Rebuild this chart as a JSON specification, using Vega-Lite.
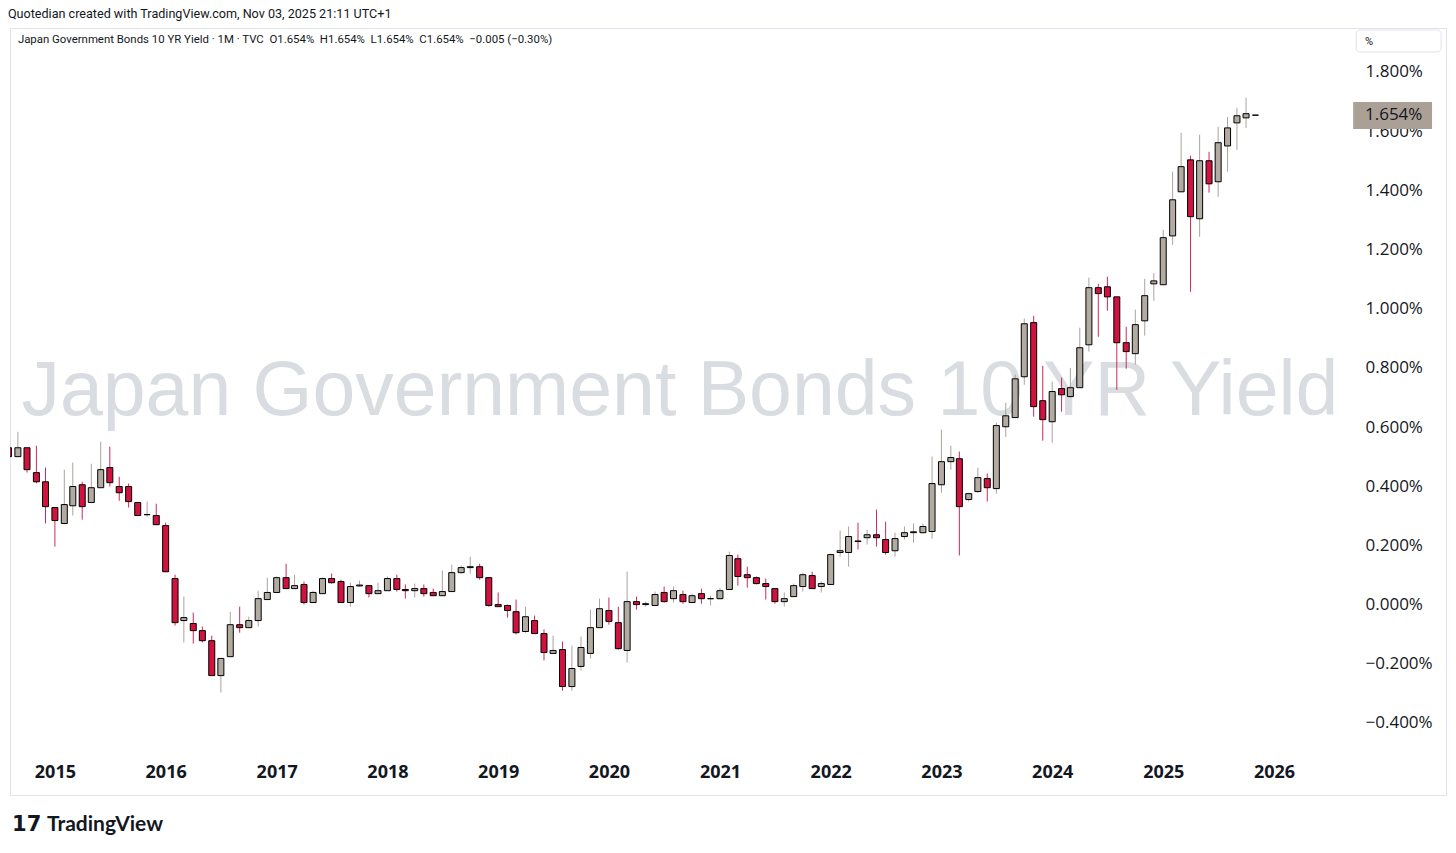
{
  "$schema": "https://vega.github.io/schema/vega-lite/v6.json",
  "width": 1436,
  "height": 767,
  "autosize": "none",
  "padding": {"left": 10, "top": 28, "right": 10, "bottom": 58},
  "background": "white",
  "config": {"view": {"stroke": "#e0e3eb", "strokeWidth": 1}},
  "data": {"values": [
    {"d":"2014-08-01","o":0.53,"h":0.54,"l":0.49,"c":0.50},
    {"d":"2014-09-01","o":0.50,"h":0.584,"l":0.50,"c":0.53},
    {"d":"2014-10-01","o":0.53,"h":0.53,"l":0.446,"c":0.456},
    {"d":"2014-11-01","o":0.446,"h":0.537,"l":0.41,"c":0.415},
    {"d":"2014-12-01","o":0.415,"h":0.463,"l":0.274,"c":0.331},
    {"d":"2015-01-01","o":0.328,"h":0.328,"l":0.196,"c":0.284},
    {"d":"2015-02-01","o":0.274,"h":0.456,"l":0.274,"c":0.338},
    {"d":"2015-03-01","o":0.334,"h":0.48,"l":0.301,"c":0.399},
    {"d":"2015-04-01","o":0.405,"h":0.415,"l":0.287,"c":0.331},
    {"d":"2015-05-01","o":0.345,"h":0.476,"l":0.345,"c":0.395},
    {"d":"2015-06-01","o":0.395,"h":0.551,"l":0.395,"c":0.456},
    {"d":"2015-07-01","o":0.463,"h":0.534,"l":0.399,"c":0.412},
    {"d":"2015-08-01","o":0.399,"h":0.432,"l":0.351,"c":0.378},
    {"d":"2015-09-01","o":0.399,"h":0.409,"l":0.328,"c":0.348},
    {"d":"2015-10-01","o":0.345,"h":0.345,"l":0.301,"c":0.301},
    {"d":"2015-11-01","o":0.304,"h":0.348,"l":0.297,"c":0.304},
    {"d":"2015-12-01","o":0.301,"h":0.341,"l":0.27,"c":0.27},
    {"d":"2016-01-01","o":0.267,"h":0.277,"l":0.111,"c":0.111},
    {"d":"2016-02-01","o":0.088,"h":0.101,"l":-0.071,"c":-0.061},
    {"d":"2016-03-01","o":-0.054,"h":0.027,"l":-0.128,"c":-0.044},
    {"d":"2016-04-01","o":-0.064,"h":-0.027,"l":-0.132,"c":-0.088},
    {"d":"2016-05-01","o":-0.088,"h":-0.074,"l":-0.128,"c":-0.122},
    {"d":"2016-06-01","o":-0.122,"h":-0.105,"l":-0.24,"c":-0.24},
    {"d":"2016-07-01","o":-0.24,"h":-0.182,"l":-0.297,"c":-0.182},
    {"d":"2016-08-01","o":-0.176,"h":-0.024,"l":-0.176,"c":-0.068},
    {"d":"2016-09-01","o":-0.068,"h":-0.007,"l":-0.095,"c":-0.078},
    {"d":"2016-10-01","o":-0.078,"h":-0.041,"l":-0.078,"c":-0.054},
    {"d":"2016-11-01","o":-0.054,"h":0.047,"l":-0.074,"c":0.02},
    {"d":"2016-12-01","o":0.017,"h":0.091,"l":0.017,"c":0.041},
    {"d":"2017-01-01","o":0.041,"h":0.095,"l":0.041,"c":0.091},
    {"d":"2017-02-01","o":0.091,"h":0.138,"l":0.054,"c":0.054},
    {"d":"2017-03-01","o":0.054,"h":0.101,"l":0.054,"c":0.064},
    {"d":"2017-04-01","o":0.068,"h":0.078,"l":0.0,"c":0.007},
    {"d":"2017-05-01","o":0.007,"h":0.047,"l":0.007,"c":0.041},
    {"d":"2017-06-01","o":0.037,"h":0.091,"l":0.037,"c":0.088},
    {"d":"2017-07-01","o":0.088,"h":0.105,"l":0.071,"c":0.074},
    {"d":"2017-08-01","o":0.078,"h":0.084,"l":0.007,"c":0.007},
    {"d":"2017-09-01","o":0.007,"h":0.074,"l":-0.007,"c":0.061},
    {"d":"2017-10-01","o":0.063,"h":0.081,"l":0.061,"c":0.066},
    {"d":"2017-11-01","o":0.064,"h":0.064,"l":0.024,"c":0.037},
    {"d":"2017-12-01","o":0.037,"h":0.074,"l":0.037,"c":0.047},
    {"d":"2018-01-01","o":0.047,"h":0.095,"l":0.047,"c":0.088},
    {"d":"2018-02-01","o":0.088,"h":0.101,"l":0.044,"c":0.051},
    {"d":"2018-03-01","o":0.051,"h":0.068,"l":0.02,"c":0.047},
    {"d":"2018-04-01","o":0.047,"h":0.071,"l":0.024,"c":0.054},
    {"d":"2018-05-01","o":0.054,"h":0.068,"l":0.027,"c":0.037},
    {"d":"2018-06-01","o":0.041,"h":0.054,"l":0.03,"c":0.03},
    {"d":"2018-07-01","o":0.03,"h":0.115,"l":0.03,"c":0.044},
    {"d":"2018-08-01","o":0.044,"h":0.135,"l":0.044,"c":0.108},
    {"d":"2018-09-01","o":0.108,"h":0.132,"l":0.105,"c":0.125},
    {"d":"2018-10-01","o":0.125,"h":0.162,"l":0.105,"c":0.128},
    {"d":"2018-11-01","o":0.128,"h":0.138,"l":0.084,"c":0.091},
    {"d":"2018-12-01","o":0.091,"h":0.091,"l":-0.007,"c":-0.003},
    {"d":"2019-01-01","o":0.0,"h":0.041,"l":-0.007,"c":-0.007},
    {"d":"2019-02-01","o":-0.003,"h":0.0,"l":-0.044,"c":-0.02},
    {"d":"2019-03-01","o":-0.024,"h":0.017,"l":-0.101,"c":-0.095},
    {"d":"2019-04-01","o":-0.091,"h":-0.007,"l":-0.095,"c":-0.041},
    {"d":"2019-05-01","o":-0.054,"h":-0.037,"l":-0.098,"c":-0.098},
    {"d":"2019-06-01","o":-0.098,"h":-0.084,"l":-0.189,"c":-0.162},
    {"d":"2019-07-01","o":-0.165,"h":-0.105,"l":-0.165,"c":-0.155},
    {"d":"2019-08-01","o":-0.152,"h":-0.125,"l":-0.291,"c":-0.277},
    {"d":"2019-09-01","o":-0.277,"h":-0.139,"l":-0.291,"c":-0.216},
    {"d":"2019-10-01","o":-0.209,"h":-0.108,"l":-0.223,"c":-0.145},
    {"d":"2019-11-01","o":-0.165,"h":-0.017,"l":-0.182,"c":-0.078},
    {"d":"2019-12-01","o":-0.078,"h":0.02,"l":-0.078,"c":-0.014},
    {"d":"2020-01-01","o":-0.02,"h":0.024,"l":-0.068,"c":-0.057},
    {"d":"2020-02-01","o":-0.061,"h":-0.007,"l":-0.152,"c":-0.149},
    {"d":"2020-03-01","o":-0.155,"h":0.111,"l":-0.196,"c":0.01},
    {"d":"2020-04-01","o":0.01,"h":0.027,"l":-0.017,"c":0.0},
    {"d":"2020-05-01","o":0.0,"h":0.01,"l":-0.007,"c":0.003},
    {"d":"2020-06-01","o":-0.003,"h":0.044,"l":-0.003,"c":0.034},
    {"d":"2020-07-01","o":0.041,"h":0.061,"l":0.007,"c":0.01},
    {"d":"2020-08-01","o":0.02,"h":0.061,"l":0.007,"c":0.047},
    {"d":"2020-09-01","o":0.034,"h":0.047,"l":0.003,"c":0.01},
    {"d":"2020-10-01","o":0.007,"h":0.037,"l":0.007,"c":0.03},
    {"d":"2020-11-01","o":0.037,"h":0.054,"l":0.003,"c":0.02},
    {"d":"2020-12-01","o":0.02,"h":0.03,"l":-0.003,"c":0.02},
    {"d":"2021-01-01","o":0.02,"h":0.057,"l":0.017,"c":0.047},
    {"d":"2021-02-01","o":0.051,"h":0.179,"l":0.051,"c":0.166},
    {"d":"2021-03-01","o":0.155,"h":0.169,"l":0.064,"c":0.095},
    {"d":"2021-04-01","o":0.101,"h":0.128,"l":0.057,"c":0.091},
    {"d":"2021-05-01","o":0.091,"h":0.095,"l":0.068,"c":0.071},
    {"d":"2021-06-01","o":0.071,"h":0.088,"l":0.017,"c":0.061},
    {"d":"2021-07-01","o":0.054,"h":0.054,"l":0.003,"c":0.01},
    {"d":"2021-08-01","o":0.01,"h":0.041,"l":-0.007,"c":0.02},
    {"d":"2021-09-01","o":0.027,"h":0.071,"l":0.027,"c":0.064},
    {"d":"2021-10-01","o":0.061,"h":0.108,"l":0.044,"c":0.101},
    {"d":"2021-11-01","o":0.098,"h":0.111,"l":0.054,"c":0.054},
    {"d":"2021-12-01","o":0.061,"h":0.078,"l":0.041,"c":0.071},
    {"d":"2022-01-01","o":0.068,"h":0.172,"l":0.068,"c":0.169},
    {"d":"2022-02-01","o":0.176,"h":0.25,"l":0.162,"c":0.182},
    {"d":"2022-03-01","o":0.176,"h":0.264,"l":0.128,"c":0.23},
    {"d":"2022-04-01","o":0.215,"h":0.277,"l":0.186,"c":0.213},
    {"d":"2022-05-01","o":0.226,"h":0.253,"l":0.203,"c":0.236},
    {"d":"2022-06-01","o":0.236,"h":0.321,"l":0.196,"c":0.226},
    {"d":"2022-07-01","o":0.22,"h":0.28,"l":0.169,"c":0.176},
    {"d":"2022-08-01","o":0.182,"h":0.243,"l":0.162,"c":0.223},
    {"d":"2022-09-01","o":0.23,"h":0.264,"l":0.22,"c":0.243},
    {"d":"2022-10-01","o":0.243,"h":0.274,"l":0.209,"c":0.246},
    {"d":"2022-11-01","o":0.243,"h":0.274,"l":0.24,"c":0.264},
    {"d":"2022-12-01","o":0.247,"h":0.5,"l":0.223,"c":0.409},
    {"d":"2023-01-01","o":0.405,"h":0.591,"l":0.378,"c":0.483},
    {"d":"2023-02-01","o":0.483,"h":0.537,"l":0.456,"c":0.497},
    {"d":"2023-03-01","o":0.493,"h":0.517,"l":0.166,"c":0.331},
    {"d":"2023-04-01","o":0.355,"h":0.378,"l":0.348,"c":0.375},
    {"d":"2023-05-01","o":0.382,"h":0.463,"l":0.378,"c":0.429},
    {"d":"2023-06-01","o":0.426,"h":0.443,"l":0.348,"c":0.395},
    {"d":"2023-07-01","o":0.392,"h":0.615,"l":0.375,"c":0.605},
    {"d":"2023-08-01","o":0.601,"h":0.682,"l":0.567,"c":0.638},
    {"d":"2023-09-01","o":0.632,"h":0.777,"l":0.632,"c":0.763},
    {"d":"2023-10-01","o":0.77,"h":0.966,"l":0.743,"c":0.949},
    {"d":"2023-11-01","o":0.953,"h":0.976,"l":0.635,"c":0.669},
    {"d":"2023-12-01","o":0.689,"h":0.807,"l":0.554,"c":0.625},
    {"d":"2024-01-01","o":0.618,"h":0.753,"l":0.547,"c":0.72},
    {"d":"2024-02-01","o":0.73,"h":0.767,"l":0.652,"c":0.709},
    {"d":"2024-03-01","o":0.703,"h":0.8,"l":0.7,"c":0.733},
    {"d":"2024-04-01","o":0.733,"h":0.936,"l":0.733,"c":0.868},
    {"d":"2024-05-01","o":0.878,"h":1.105,"l":0.855,"c":1.071},
    {"d":"2024-06-01","o":1.071,"h":1.084,"l":0.905,"c":1.051},
    {"d":"2024-07-01","o":1.074,"h":1.108,"l":0.993,"c":1.04},
    {"d":"2024-08-01","o":1.04,"h":1.04,"l":0.726,"c":0.885},
    {"d":"2024-09-01","o":0.885,"h":0.939,"l":0.797,"c":0.855},
    {"d":"2024-10-01","o":0.848,"h":0.997,"l":0.811,"c":0.946},
    {"d":"2024-11-01","o":0.959,"h":1.101,"l":0.909,"c":1.044},
    {"d":"2024-12-01","o":1.084,"h":1.121,"l":1.027,"c":1.094},
    {"d":"2025-01-01","o":1.081,"h":1.267,"l":1.081,"c":1.24},
    {"d":"2025-02-01","o":1.246,"h":1.463,"l":1.216,"c":1.368},
    {"d":"2025-03-01","o":1.395,"h":1.594,"l":1.395,"c":1.48},
    {"d":"2025-04-01","o":1.503,"h":1.517,"l":1.057,"c":1.311},
    {"d":"2025-05-01","o":1.304,"h":1.588,"l":1.243,"c":1.5},
    {"d":"2025-06-01","o":1.5,"h":1.53,"l":1.392,"c":1.422},
    {"d":"2025-07-01","o":1.429,"h":1.615,"l":1.378,"c":1.561},
    {"d":"2025-08-01","o":1.55,"h":1.648,"l":1.463,"c":1.611},
    {"d":"2025-09-01","o":1.628,"h":1.679,"l":1.537,"c":1.652},
    {"d":"2025-10-01","o":1.645,"h":1.713,"l":1.611,"c":1.659},
    {"d":"2025-11-01","o":1.654,"h":1.654,"l":1.654,"c":1.654}
  ]},
  "layer": [
    {
      "data": {"values": [{}]},
      "mark": {"type": "text", "align": "center", "baseline": "alphabetic", "font": "Liberation Sans", "fontSize": 77, "color": "#d9dce0"},
      "encoding": {
        "x": {"datum": {"year": 2020, "month": 8, "date": 22, "utc": true}, "type": "temporal"},
        "y": {"datum": 0.641, "type": "quantitative"},
        "text": {"value": "Japan Government Bonds 10 YR Yield"}
      }
    },
    {
      "mark": {"type": "rule", "strokeWidth": 1, "clip": true},
      "encoding": {
        "x": {"field": "d", "type": "temporal",
              "scale": {"type": "utc", "nice": false, "padding": 0, "domain": [{"year": 2014, "month": 8, "date": 6, "utc": true}, {"year": 2027, "month": 7, "date": 22, "utc": true}]},
              "axis": {"orient": "bottom", "offset": -23, "title": null, "format": "%Y", "domain": false, "ticks": false, "tickSize": 0, "grid": false, "labelPadding": 0, "labelBaseline": "middle", "labelFont": "Open Sans", "labelFontSize": 18, "labelFontWeight": "bold", "labelColor": "#131722", "labelOverlap": false, "labelBound": false, "labelFlush": false,
                       "values": [{"year": 2015, "month": 1, "date": 1, "utc": true}, {"year": 2016, "month": 1, "date": 1, "utc": true}, {"year": 2017, "month": 1, "date": 1, "utc": true}, {"year": 2018, "month": 1, "date": 1, "utc": true}, {"year": 2019, "month": 1, "date": 1, "utc": true}, {"year": 2020, "month": 1, "date": 1, "utc": true}, {"year": 2021, "month": 1, "date": 1, "utc": true}, {"year": 2022, "month": 1, "date": 1, "utc": true}, {"year": 2023, "month": 1, "date": 1, "utc": true}, {"year": 2024, "month": 1, "date": 1, "utc": true}, {"year": 2025, "month": 1, "date": 1, "utc": true}, {"year": 2026, "month": 1, "date": 1, "utc": true}]}},
        "y": {"field": "l", "type": "quantitative",
              "scale": {"domain": [-0.6435, 1.9486], "nice": false, "zero": false},
              "axis": {"orient": "right", "offset": -81, "title": null, "domain": false, "ticks": false, "tickSize": 0, "grid": false, "labelPadding": 0, "labelAlign": "left", "labelBaseline": "middle", "labelFont": "Open Sans", "labelFontSize": 17, "labelColor": "#131722", "labelOverlap": false, "labelBound": false,
                       "values": [-0.4, -0.2, 0, 0.2, 0.4, 0.6, 0.8, 1.0, 1.2, 1.4, 1.6, 1.8],
                       "labelExpr": "format(datum.value, '.3f') + '%'"}},
        "y2": {"field": "h"},
        "stroke": {"condition": {"test": "datum.c >= datum.o", "value": "#a9a39c"}, "value": "#cc2a58"}
      }
    },
    {
      "mark": {"type": "bar", "width": 6, "stroke": "#000000", "strokeWidth": 1, "clip": true},
      "encoding": {
        "x": {"field": "d", "type": "temporal"},
        "y": {"field": "o", "type": "quantitative"},
        "y2": {"field": "c"},
        "fill": {"condition": {"test": "datum.c >= datum.o", "value": "#b2aba2"}, "value": "#d1123f"}
      }
    },
    {
      "data": {"values": [{}]},
      "mark": {"type": "rect", "fill": "#aba096"},
      "encoding": {
        "x": {"datum": {"year": 2026, "month": 9, "date": 19, "utc": true}, "type": "temporal"},
        "x2": {"datum": {"year": 2027, "month": 6, "date": 6, "utc": true}},
        "y": {"datum": 1.6073, "type": "quantitative"},
        "y2": {"datum": 1.6985}
      }
    },
    {
      "data": {"values": [{}]},
      "mark": {"type": "text", "align": "left", "baseline": "middle", "font": "Open Sans", "fontSize": 17, "color": "#131722"},
      "encoding": {
        "x": {"datum": {"year": 2026, "month": 10, "date": 28, "utc": true}, "type": "temporal"},
        "y": {"datum": 1.654, "type": "quantitative"},
        "text": {"value": "1.654%"}
      }
    },
    {
      "data": {"values": [{}]},
      "mark": {"type": "rect", "fill": "#ffffff", "stroke": "#e0e3eb", "strokeWidth": 1, "cornerRadius": 4},
      "encoding": {
        "x": {"datum": {"year": 2026, "month": 9, "date": 29, "utc": true}, "type": "temporal"},
        "x2": {"datum": {"year": 2027, "month": 7, "date": 6, "utc": true}},
        "y": {"datum": 1.8675, "type": "quantitative"},
        "y2": {"datum": 1.9419}
      }
    },
    {
      "data": {"values": [{}]},
      "mark": {"type": "text", "align": "left", "baseline": "middle", "font": "Roboto", "fontSize": 11, "color": "#131722"},
      "encoding": {
        "x": {"datum": {"year": 2026, "month": 10, "date": 28, "utc": true}, "type": "temporal"},
        "y": {"datum": 1.902, "type": "quantitative"},
        "text": {"value": "%"}
      }
    },
    {
      "data": {"values": [{}]},
      "mark": {"type": "text", "align": "left", "baseline": "middle", "font": "Roboto", "fontSize": 12.6, "color": "#131722"},
      "encoding": {
        "x": {"datum": {"year": 2014, "month": 7, "date": 30, "utc": true}, "type": "temporal"},
        "y": {"datum": 1.996, "type": "quantitative"},
        "text": {"value": "Quotedian created with TradingView.com, Nov 03, 2025 21:11 UTC+1"}
      }
    },
    {
      "data": {"values": [{}]},
      "mark": {"type": "text", "align": "left", "baseline": "middle", "font": "Roboto", "fontSize": 11.4, "color": "#131722"},
      "encoding": {
        "x": {"datum": {"year": 2014, "month": 9, "date": 1, "utc": true}, "type": "temporal"},
        "y": {"datum": 1.908, "type": "quantitative"},
        "text": {"value": "Japan Government Bonds 10 YR Yield · 1M · TVC\u00a0\u00a0O1.654%\u00a0\u00a0H1.654%\u00a0\u00a0L1.654%\u00a0\u00a0C1.654%\u00a0\u00a0−0.005 (−0.30%)"}
      }
    },
    {
      "data": {"values": [{}]},
      "mark": {"type": "text", "align": "left", "baseline": "middle", "font": "Lato", "fontSize": 21, "fontWeight": "bold", "color": "#131722"},
      "encoding": {
        "x": {"datum": {"year": 2014, "month": 12, "date": 6, "utc": true}, "type": "temporal"},
        "y": {"datum": -0.745, "type": "quantitative"},
        "text": {"value": "TradingView"}
      }
    },
    {
      "data": {"values": [{}]},
      "mark": {"type": "text", "align": "left", "baseline": "middle", "font": "DejaVu Sans", "fontSize": 21, "fontWeight": "bold", "color": "#131722"},
      "encoding": {
        "x": {"datum": {"year": 2014, "month": 8, "date": 13, "utc": true}, "type": "temporal"},
        "y": {"datum": -0.745, "type": "quantitative"},
        "text": {"value": "17"}
      }
    }
  ]
}
